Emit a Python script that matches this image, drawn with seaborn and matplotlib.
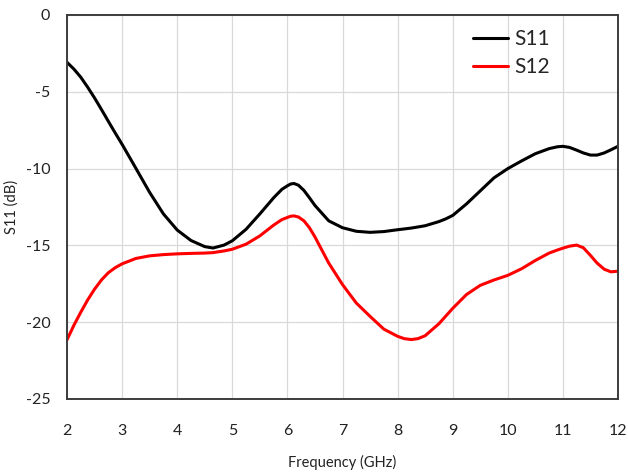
import numpy as np
import pandas as pd
import matplotlib
matplotlib.use("Agg")
import matplotlib.pyplot as plt
import seaborn as sns

# ---- data ----
freq_ghz = [2.0, 2.125, 2.25, 2.375, 2.5, 2.625, 2.75, 2.875, 3.0, 3.25, 3.5,
            3.75, 4.0, 4.25, 4.5, 4.65, 4.85, 5.0, 5.25, 5.5, 5.75, 5.9, 6.0,
            6.06, 6.12, 6.2, 6.3, 6.4, 6.5, 6.75, 7.0, 7.25, 7.5, 7.75, 8.0,
            8.12, 8.25, 8.37, 8.5, 8.75, 8.87, 9.0, 9.25, 9.5, 9.75, 10.0,
            10.25, 10.5, 10.75, 10.9, 11.0, 11.12, 11.25, 11.37, 11.5, 11.62,
            11.75, 11.87, 12.0]

s11_db = [-3.08, -3.52, -4.05, -4.7, -5.4, -6.15, -6.92, -7.68, -8.42, -9.98,
          -11.55, -12.95, -14.0, -14.68, -15.08, -15.17, -14.98, -14.7, -13.95,
          -12.95, -11.9, -11.35, -11.12, -11.0, -10.97, -11.08, -11.42, -11.9,
          -12.4, -13.4, -13.85, -14.08, -14.15, -14.1, -13.98, -13.93, -13.87,
          -13.8, -13.72, -13.45, -13.28, -13.05, -12.3, -11.45, -10.6, -10.0,
          -9.5, -9.03, -8.7, -8.58, -8.55, -8.62, -8.8, -8.98, -9.12, -9.12,
          -8.98, -8.78, -8.55]

s12_db = [-21.15, -20.2, -19.35, -18.55, -17.85, -17.25, -16.78, -16.45, -16.2,
          -15.85, -15.68, -15.6, -15.55, -15.52, -15.5, -15.47, -15.36, -15.25,
          -14.92, -14.38, -13.68, -13.32, -13.18, -13.1, -13.08, -13.15, -13.4,
          -13.85, -14.45, -16.15, -17.55, -18.75, -19.62, -20.45, -20.92,
          -21.07, -21.13, -21.07, -20.88, -20.1, -19.62, -19.1, -18.2, -17.6,
          -17.25, -16.95, -16.52, -15.98, -15.5, -15.3, -15.18, -15.05, -14.98,
          -15.15, -15.65, -16.15, -16.55, -16.72, -16.68]

series_names = ["S11", "S12"]
series_colors = {"S11": "black", "S12": "red"}
x_ticks = [2, 3, 4, 5, 6, 7, 8, 9, 10, 11, 12]
y_ticks = [0, -5, -10, -15, -20, -25]

df = pd.DataFrame({
    "freq": freq_ghz * 2,
    "db": s11_db + s12_db,
    "param": ["S11"] * len(s11_db) + ["S12"] * len(s12_db),
})

# ---- style ----
sns.set_theme(style="whitegrid")
plt.rcParams["font.family"] = ["Lato", "DejaVu Sans"]
plt.rcParams["axes.unicode_minus"] = False

fig = plt.figure(figsize=(6.28, 4.72), dpi=100)
ax = fig.add_axes([67 / 628, 1 - 399 / 472, (618 - 67) / 628, (399 - 15) / 472])

sns.lineplot(data=df, x="freq", y="db", hue="param", hue_order=series_names,
             palette=series_colors, linewidth=2.2, ax=ax, legend=True)
for ln in ax.get_lines():
    ln.set_solid_joinstyle("round")

ax.set_xlim(2, 12)
ax.set_ylim(-25, 0)
ax.set_xticks(x_ticks)
ax.set_yticks(y_ticks)
ax.grid(True, color="#d9d9d9", linewidth=0.9)
ax.tick_params(axis="x", length=0, pad=18, labelsize=11.5, labelcolor="#222222")
ax.tick_params(axis="y", length=0, pad=12, labelsize=11.5, labelcolor="#222222")
for sp in ax.spines.values():
    sp.set_color("#3c3c3c")
    sp.set_linewidth(1.4)

ax.set_xlabel("Frequency (GHz)", fontsize=10.5, color="#222222", labelpad=12)
ax.set_ylabel("S11 (dB)", fontsize=10.5, color="#222222", labelpad=5)

ax.legend(loc="upper left", bbox_to_anchor=(473 / 628, 1 - 29 / 472),
          bbox_transform=fig.transFigure, frameon=False, fontsize=15,
          handlelength=1.7, handletextpad=0.3, labelspacing=0.4,
          borderpad=0, borderaxespad=0)

fig.savefig("out.png", dpi=100)
